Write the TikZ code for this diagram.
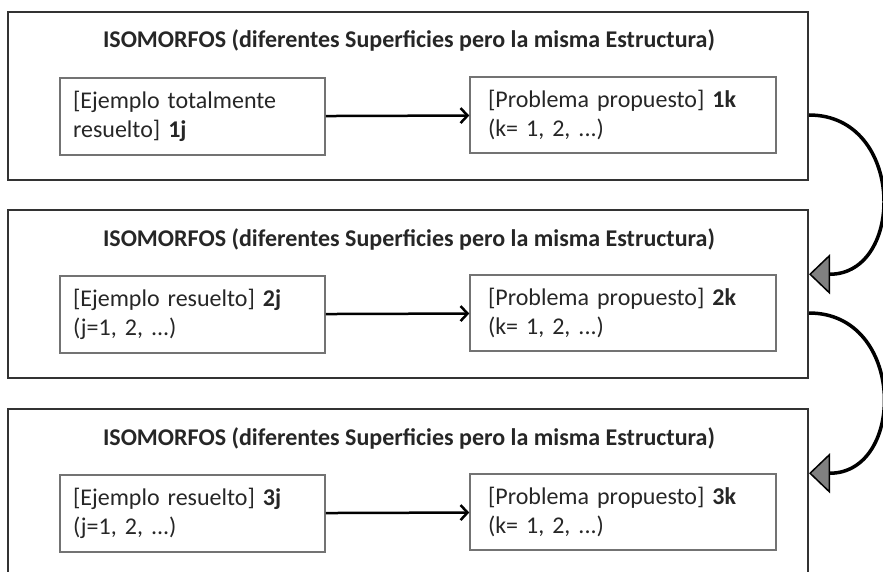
\documentclass[tikz,border=0pt]{standalone}
\usepackage{fontspec}
\setmainfont{Carlito}
\usetikzlibrary{arrows.meta}

\tikzset{
  grupo/.style={draw=black!80, line width=2pt, minimum width=800pt, minimum height=168pt, inner sep=0pt},
  titulo/.style={anchor=base, font=\bfseries\fontsize{24}{28}\selectfont, text=black!85},
  ejemplo/.style={draw=black!55, line width=1.5pt, text width=239pt, inner xsep=13pt, minimum height=77pt, align=left, font=\fontsize{24}{29}\selectfont, text=black!85},
  problema/.style={draw=black!55, line width=1.5pt, text width=270pt, inner xsep=18pt, minimum height=76pt, align=left, font=\fontsize{24}{29}\selectfont, text=black!85},
  flecha/.style={line width=2.5pt, -{Straight Barb[length=7pt,width=15pt]}},
  salto/.style={line width=3.5pt, -{Triangle[length=21pt,width=40pt,fill=black!50,line width=1.5pt]}}
}

\begin{document}
\begin{tikzpicture}[x=1pt,y=-1pt]

            \useasboundingbox (0,0) rectangle (883,572);
            \clip (0,0) rectangle (883,572);

            \node[grupo] (g1) at (408,96) {};
            \node[grupo] (g2) at (408,294) {};
            \node[grupo] (g3) at (408,493) {};

            \node[titulo] (t1) at (409,48) {ISOMORFOS (diferentes Superficies pero la misma Estructura)};
            \node[titulo] (t2) at (409,246) {ISOMORFOS (diferentes Superficies pero la misma Estructura)};
            \node[titulo] (t3) at (409,445) {ISOMORFOS (diferentes Superficies pero la misma Estructura)};

            \node[ejemplo] (e1) at (192.5,116.5) {[Ejemplo totalmente\\resuelto] \textbf{1j}};
            \node[ejemplo] (e2) at (192.5,314.5) {[Ejemplo resuelto] \textbf{2j}\\(j=1, 2, ...)};
            \node[ejemplo] (e3) at (192.5,513.5) {[Ejemplo resuelto] \textbf{3j}\\(j=1, 2, ...)};

            \node[problema] (p1) at (623,115) {[Problema propuesto] \textbf{1k}\\(k= 1, 2, ...)};
            \node[problema] (p2) at (623,313) {[Problema propuesto] \textbf{2k}\\(k= 1, 2, ...)};
            \node[problema] (p3) at (623,512) {[Problema propuesto] \textbf{3k}\\(k= 1, 2, ...)};

            \draw[flecha] (e1) -- (p1);
            \draw[flecha] (e2) -- (p2);
            \draw[flecha] (e3) -- (p3);

            \draw[salto] (p1 -| g1.east) to[out=0, in=0, looseness=1.55] (g2.east |- p2.north);
            \draw[salto] (p2 -| g2.east) to[out=0, in=0, looseness=1.55] (g3.east |- p3.north);

          \end{tikzpicture}
\end{document}
